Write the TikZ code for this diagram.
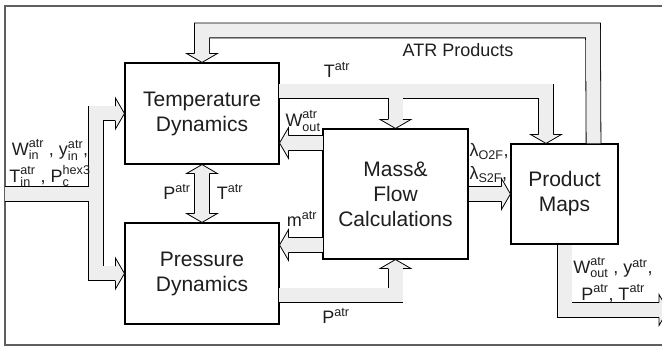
\documentclass[tikz,border=0pt]{standalone}
\usepackage{amsmath}
\usepackage{fontspec}
\setmainfont{Liberation Sans}
\usetikzlibrary{calc}
\definecolor{flowGray}{RGB}{238,238,238}
\definecolor{frameGray}{RGB}{95,95,95}
\definecolor{inkDark}{RGB}{30,30,30}
% block arrow head: tip point, direction
\newcommand{\flowhead}[2]{%
  \fill[flowGray,shift={#1},rotate=#2] (-9,-7) -- (-9,-15.5) -- (0,0) -- (-9,15.5) -- (-9,7) -- cycle;
  \draw[shift={#1},rotate=#2,line width=0.8pt,line join=miter] (-9,-7.4) -- (-9,-15.5) -- (0,0) -- (-9,15.5) -- (-9,7.4);}

\begin{document}
\begin{tikzpicture}[x=1pt,y=-1pt,
      block/.style={draw=black,line width=1.1pt,fill=white,inner sep=0pt,align=center,text=inkDark,font=\fontsize{21}{25}\selectfont},
      lbl/.style={inner sep=0pt,text=inkDark,font=\fontsize{18}{23}\selectfont,align=center},
      wide/.style={font=\fontsize{18}{27}\selectfont},
      flow/.style={draw=flowGray,line width=14pt,line join=miter,preaction={draw=black,line width=15.6pt}},
      tipend/.style={shorten >=8.5pt},
      tipstart/.style={shorten <=8.5pt}
    ]
    \useasboundingbox (0,0) rectangle (662,347);
    \draw[frameGray,line width=1.3pt] (5,6) rectangle (700,345);

    \node[block,minimum width=154pt,minimum height=101pt] (temp)  at (202,113.5) {Temperature\\Dynamics};
    \node[block,minimum width=154pt,minimum height=101pt] (press) at (202,273.5) {Pressure\\Dynamics};
    \node[block,minimum width=145pt,minimum height=130pt] (mass)  at (395.5,194) {Mass\&\\Flow\\Calculations};
    \node[block,minimum width=107pt,minimum height=100pt] (prod)  at (564.5,194) {Product\\Maps};

    \coordinate (atrsrc) at ($(prod.north east)+(-25,0)$);
    \coordinate (atrtop) at (593,30.5);
    \coordinate (tsrc) at (279,91.5);
    \coordinate (tcorner) at (546,91.5);
    \coordinate (tbranch) at (395.5,98.1);
    \coordinate (wsrc) at (323,143);
    \coordinate (msrc) at (323,245);
    \coordinate (psrc) at (279,295.5);
    \coordinate (insrc) at (5,194);
    \coordinate (injoin) at (89.4,194);
    \coordinate (outp) at (668,310);

    % shafts
    \draw[flow,tipend] (atrsrc) -- (atrtop) -| (temp.north);
    \draw[flow,tipend] (tsrc) -- (tcorner) -- (tcorner |- prod.north);
    \draw[flow,tipend] (tbranch) -- (mass.north);
    \draw[flow,tipend] (wsrc) -- (wsrc -| temp.east);
    \draw[flow,tipend] (msrc) -- (msrc -| press.east);
    \draw[flow,tipend] (psrc) -| (mass.south);
    \draw[flow,tipend] (mass.east) -- (prod.west);
    \draw[flow,tipstart,tipend] (temp.south) -- (press.north);
    \draw[flow,tipstart,tipend] (temp.west) -| (96,273.5) -- (press.west);
    \draw[flow] (insrc) -- (injoin);
    \draw[flow,tipend] (prod.south) |- (outp);

    % heads
    \flowhead{(temp.north)}{-90}
    \flowhead{(tcorner |- prod.north)}{-90}
    \flowhead{(mass.north)}{-90}
    \flowhead{(wsrc -| temp.east)}{180}
    \flowhead{(msrc -| press.east)}{180}
    \flowhead{(mass.south)}{90}
    \flowhead{(prod.west)}{0}
    \flowhead{(temp.south)}{90}
    \flowhead{(press.north)}{-90}
    \flowhead{(temp.west)}{0}
    \flowhead{(press.west)}{0}
    \flowhead{(outp)}{0}

    % labels
    \node[lbl] (atrlbl) at (458,50) {ATR Products};
    \node[lbl] (ttop) at (337,70) {$\text{T}^{\text{atr}}$};
    \node[lbl] (wout) at (303,121) {$\text{W}^{\text{atr}}_{\text{out}}$};
    \node[lbl] (pmid) at (177,192) {$\text{P}^{\text{atr}}$};
    \node[lbl] (tmid) at (230,192) {$\text{T}^{\text{atr}}$};
    \node[lbl] (mlbl) at (302,219) {$\text{m}^{\text{atr}}$};
    \node[lbl] (pbot) at (336,316) {$\text{P}^{\text{atr}}$};
    \node[lbl,align=left] (lamlbl) at (489,163) {$\text{λ}_{\text{O2F}}$,\\$\text{λ}_{\text{S2F}}$,};
    \node[lbl,wide] (inlbl) at (50,163) {$\text{W}^{\text{atr}}_{\text{in}}$ , $\text{y}^{\text{atr}}_{\text{in}}$,\\$\text{T}^{\text{atr}}_{\text{in}}$ , $\text{P}^{\text{hex3}}_{\text{c}}$};
    \node[lbl,wide] (outlbl) at (613,280) {$\text{W}^{\text{atr}}_{\text{out}}$ , $\text{y}^{\text{atr}}$,\\$\text{P}^{\text{atr}}$, $\text{T}^{\text{atr}}$};
  \end{tikzpicture}
\end{document}
